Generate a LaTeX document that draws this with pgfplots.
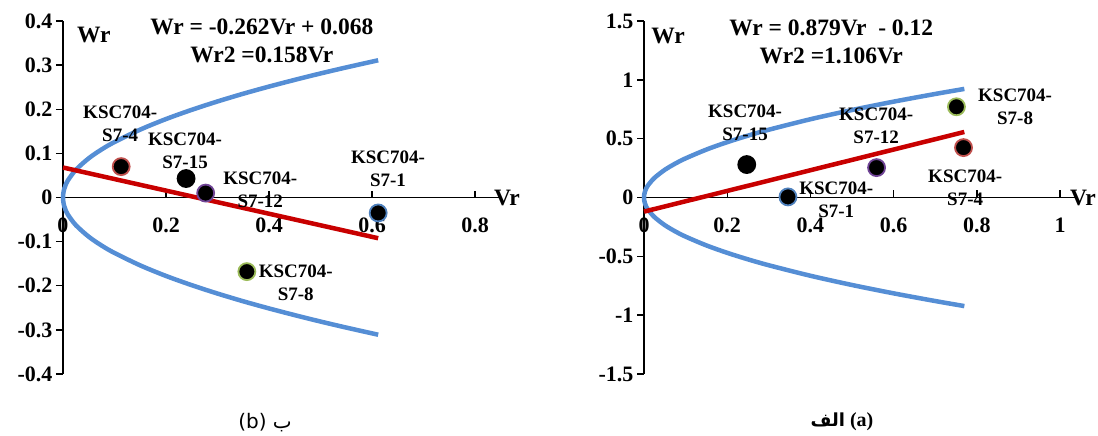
\documentclass[border=0pt]{standalone}
\usepackage{fontspec}
\setmainfont{Liberation Serif}
\newfontfamily\arabicfont[Script=Arabic]{DejaVu Sans}
\TeXXeTstate=1
\usepackage{pgfplots}
\pgfplotsset{compat=1.18}
\definecolor{curveblue}{RGB}{85,142,213}
\definecolor{linered}{RGB}{200,0,0}
\definecolor{edgered}{RGB}{192,80,77}
\definecolor{edgegreen}{RGB}{155,187,89}
\definecolor{edgepurple}{RGB}{112,68,150}
\definecolor{edgeblue}{RGB}{79,129,189}
\newcommand{\lbl}{\bfseries\fontsize{19}{23}\selectfont}
\newcommand{\eqf}{\bfseries\fontsize{23.5}{28}\selectfont}
\newcommand{\tb}[1]{\textbf{#1}}
\pgfplotsset{
  pt/.style={only marks, mark=*, mark size=8.5pt, mark options={fill=black, draw=#1, line width=1.8pt}},
  curve/.style={curveblue, line width=4.5pt, smooth},
  fit/.style={linered, line width=4.5pt},
  mystyle/.style={
  scale only axis,
  axis x line=middle, axis y line=left,
  axis line style={-, line width=1.4pt, black},
  hide obscured x ticks=false, hide obscured y ticks=false,
  clip=false,
  tick style={line width=1.4pt, black},
  major tick length=7pt,
  ytick align=outside, xtick align=center,
  major x tick style={yshift=3.5pt},
  tick label style={font=\bfseries\fontsize{22}{22}\selectfont},
  xticklabel style={anchor=north, yshift=-13pt},
  xmin=0,
}}
\begin{document}
\begin{tikzpicture}
\useasboundingbox (0,0) rectangle (1098pt,436pt);
% ---------------- left panel (b)
\begin{axis}[mystyle, at={(63pt,62pt)}, anchor=south west,
  width=437.75pt, height=353pt,
  xmax=0.85, ymin=-0.4, ymax=0.4,
  xtick={0,0.2,0.4,0.6,0.8}, xticklabels={\tb{0},\tb{0.2},\tb{0.4},\tb{0.6},\tb{0.8}},
  ytick={-0.4,-0.3,-0.2,-0.1,0,0.1,0.2,0.3,0.4},
  yticklabels={\tb{-0.4},\tb{-0.3},\tb{-0.2},\tb{-0.1},\tb{0},\tb{0.1},\tb{0.2},\tb{0.3},\tb{0.4}}]
\addplot[curve] coordinates {(0.612,0.3110) (0.55,0.2948) (0.5,0.2811) (0.45,0.2666) (0.4,0.2514) (0.35,0.2352) (0.3,0.2177) (0.25,0.1987) (0.2,0.1778) (0.15,0.1539) (0.1,0.1257) (0.075,0.1089) (0.05,0.0889) (0.025,0.0628) (0.01,0.0397) (0.005,0.0281) (0.0025,0.0199) (0.0006,0.0097) (0,0)
 (0.0006,-0.0097) (0.0025,-0.0199) (0.005,-0.0281) (0.01,-0.0397) (0.025,-0.0628) (0.05,-0.0889) (0.075,-0.1089) (0.1,-0.1257) (0.15,-0.1539) (0.2,-0.1778) (0.25,-0.1987) (0.3,-0.2177) (0.35,-0.2352) (0.4,-0.2514) (0.45,-0.2666) (0.5,-0.2811) (0.55,-0.2948) (0.612,-0.3110)};
\addplot[fit] coordinates {(0,0.068) (0.612,-0.0923)};
\addplot[pt=edgered] coordinates {(0.113,0.070)};
\addplot[pt=black] coordinates {(0.239,0.043)};
\addplot[pt=edgepurple] coordinates {(0.277,0.010)};
\addplot[pt=edgeblue] coordinates {(0.612,-0.035)};
\addplot[pt=edgegreen] coordinates {(0.357,-0.168)};
\node[align=center, font=\lbl] at (axis cs:0.111,0.166) {KSC704-\\S7-4};
\node[align=center, font=\lbl] at (axis cs:0.237,0.105) {KSC704-\\S7-15};
\node[align=center, font=\lbl] at (axis cs:0.383,0.018) {KSC704-\\S7-12};
\node[align=center, font=\lbl] at (axis cs:0.631,0.064) {KSC704-\\S7-1};
\node[align=center, font=\lbl] at (axis cs:0.452,-0.193) {KSC704-\\S7-8};
\node[align=center, font=\eqf] at (axis cs:0.386,0.355) {Wr = -0.262Vr + 0.068\\Wr2 =0.158Vr};
\node[font=\eqf] at (axis cs:0.060,0.368) {Wr};
\node[font=\eqf] at (axis cs:0.862,-0.002) {Vr};
\end{axis}
% ---------------- right panel (a)
\begin{axis}[mystyle, at={(644pt,62pt)}, anchor=south west,
  width=430.6pt, height=353pt,
  xmax=1.035, ymin=-1.5, ymax=1.5,
  xtick={0,0.2,0.4,0.6,0.8,1}, xticklabels={\tb{0},\tb{0.2},\tb{0.4},\tb{0.6},\tb{0.8},\tb{1}},
  ytick={-1.5,-1,-0.5,0,0.5,1,1.5},
  yticklabels={\tb{-1.5},\tb{-1},\tb{-0.5},\tb{0},\tb{0.5},\tb{1},\tb{1.5}}]
\addplot[curve] coordinates {(0.77,0.9228) (0.7,0.8799) (0.6,0.8146) (0.5,0.7436) (0.4,0.6651) (0.3,0.5760) (0.25,0.5258) (0.2,0.4703) (0.15,0.4073) (0.1,0.3326) (0.075,0.2880) (0.05,0.2352) (0.025,0.1663) (0.01,0.1052) (0.005,0.0744) (0.0025,0.0526) (0.0006,0.0258) (0,0)
 (0.0006,-0.0258) (0.0025,-0.0526) (0.005,-0.0744) (0.01,-0.1052) (0.025,-0.1663) (0.05,-0.2352) (0.075,-0.2880) (0.1,-0.3326) (0.15,-0.4073) (0.2,-0.4703) (0.25,-0.5258) (0.3,-0.5760) (0.4,-0.6651) (0.5,-0.7436) (0.6,-0.8146) (0.7,-0.8799) (0.77,-0.9228)};
\addplot[fit] coordinates {(0,-0.12) (0.77,0.557)};
\addplot[pt=black] coordinates {(0.247,0.28)};
\addplot[pt=edgeblue] coordinates {(0.346,0.005)};
\addplot[pt=edgepurple] coordinates {(0.559,0.254)};
\addplot[pt=edgegreen] coordinates {(0.751,0.771)};
\addplot[pt=edgered] coordinates {(0.768,0.424)};
\node[align=center, font=\lbl] at (axis cs:0.243,0.636) {KSC704-\\S7-15};
\node[align=center, font=\lbl] at (axis cs:0.462,-0.017) {KSC704-\\S7-1};
\node[align=center, font=\lbl] at (axis cs:0.558,0.61) {KSC704-\\S7-12};
\node[align=center, font=\lbl] at (axis cs:0.892,0.771) {KSC704-\\S7-8};
\node[align=center, font=\lbl] at (axis cs:0.772,0.085) {KSC704-\\S7-4};
\node[align=center, font=\eqf] at (axis cs:0.45,1.322) {Wr = 0.879Vr\ \ - 0.12\\Wr2 =1.106Vr};
\node[font=\eqf] at (axis cs:0.058,1.373) {Wr};
\node[font=\eqf] at (axis cs:1.055,0) {Vr};
\end{axis}
\node[font=\arabicfont\fontsize{20}{20}\selectfont] at (265pt,13pt) {(b) \beginR ب\endR};
\node[font=\fontsize{20}{20}\selectfont\bfseries] at (842pt,14pt) {{\arabicfont\bfseries\fontsize{18}{18}\selectfont\beginR الف\endR} (a)};
\end{tikzpicture}
\end{document}
